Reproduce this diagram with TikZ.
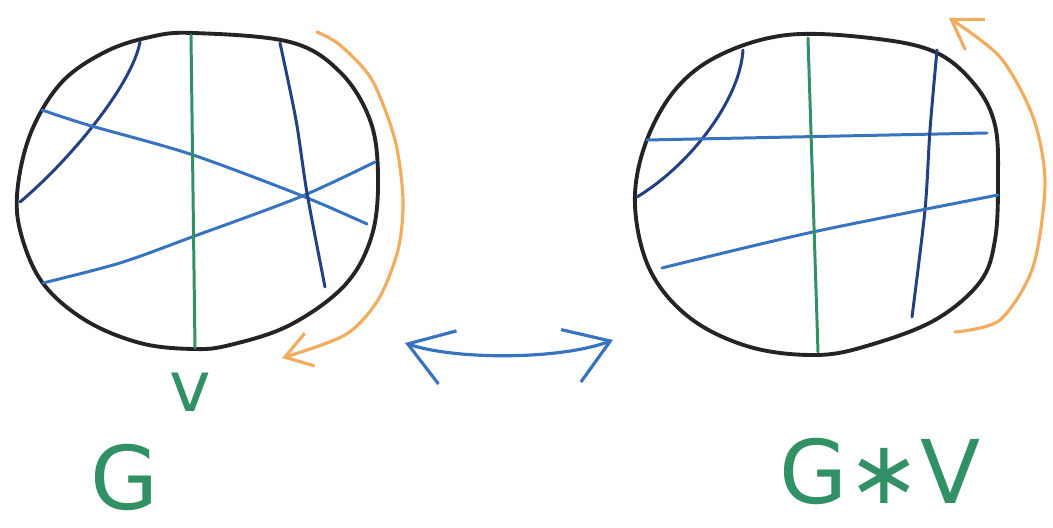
\documentclass[tikz,border=0pt]{standalone}
\usepackage{fontspec}
\setsansfont{DejaVu Sans}
\usetikzlibrary{arrows.meta}
\definecolor{inkblack}{RGB}{35,35,40}
\definecolor{inkgreen}{RGB}{50,145,100}
\definecolor{inkblue}{RGB}{55,115,190}
\definecolor{inkdark}{RGB}{35,65,130}
\definecolor{inkorange}{RGB}{242,172,95}

\begin{document}
\begin{tikzpicture}[x=0.01cm, y=-0.01cm, font=\sffamily, line cap=round, line join=round,
  rim/.style={draw=inkblack, line width=1.1pt},
  chord/.style={draw=inkblue, line width=0.85pt},
  darkchord/.style={draw=inkdark, line width=0.85pt},
  vchord/.style={draw=inkgreen, line width=0.85pt},
  flip/.style={draw=inkorange, line width=0.9pt},
  swap/.style={draw=inkblue, line width=0.9pt},
  label/.style={text=inkgreen, inner sep=0pt}]
  \useasboundingbox (0,0) rectangle (1053,528);

  % left disc: G
  \draw[rim] plot[smooth cycle, tension=0.6] coordinates {(193,33) (290,42) (340,72) (370,120) (378,175)
    (372,235) (345,285) (290,325) (230,345) (193,349) (140,343) (85,320) (42,282) (20,230) (18,185)
    (32,130) (62,82) (105,52) (150,37)};
  \draw[darkchord] (140,42) .. controls (132,85) and (70,160) .. (20,202);
  \draw[chord] plot[smooth] coordinates {(42,110) (88,125) (190,154) (300,195) (367,224)};
  \draw[chord] plot[smooth] coordinates {(43,283) (120,263) (192,237) (300,197) (375,162)};
  \draw[darkchord] plot[smooth] coordinates {(280,43) (296,120) (307,193) (325,287)};
  \draw[vchord] (191,35) -- (195,348);
  \draw[flip, -{Straight Barb[length=2.6mm, width=3.4mm]}] plot[smooth] coordinates {(317,32) (340,45)
    (372,80) (395,140) (403,200) (398,250) (378,300) (345,335) (282,358)};
  \node[label, font=\sffamily\fontsize{20}{22}\selectfont] (vname) at (190,392) {v};
  \node[label, font=\sffamily\fontsize{25}{28}\selectfont] (gname) at (125,478) {G};

  % swap arrow
  \draw[swap, {Straight Barb[length=4.2mm, width=5.6mm]}-{Straight Barb[length=4.2mm, width=5.6mm]}]
    (405,343) .. controls (455,360) and (560,360) .. (613,340);

  % right disc: G*v
  \draw[rim] plot[smooth cycle, tension=0.6] coordinates {(787,35) (870,38) (935,52) (975,85) (995,125)
    (998,180) (995,240) (980,282) (935,320) (870,345) (817,355) (750,347) (690,318) (650,270)
    (635,205) (645,145) (675,90) (720,55)};
  \draw[darkchord] (743,50) .. controls (740,100) and (690,165) .. (637,197);
  \draw[chord] (647,140) -- (987,133);
  \draw[darkchord] plot[smooth] coordinates {(937,50) (930,130) (925,210) (912,317)};
  \draw[chord] plot[smooth] coordinates {(662,268) (813,232) (998,195)};
  \draw[vchord] (808,38) -- (818,352);
  \draw[flip, -{Straight Barb[length=2.8mm, width=3.6mm]}] plot[smooth] coordinates {(955,332) (1000,320)
    (1033,267) (1045,183) (1033,117) (1000,57) (949,18)};
  \node[label, font=\sffamily\fontsize{25}{28}\selectfont] (gvname) at (880,472) {G∗V};
\end{tikzpicture}
\end{document}
